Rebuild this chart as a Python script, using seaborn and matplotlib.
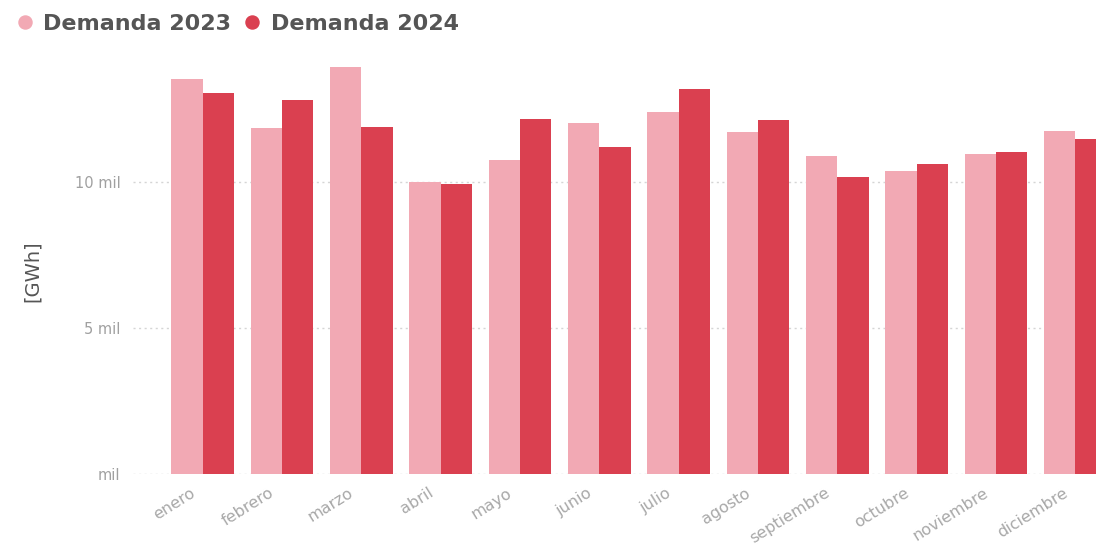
import matplotlib
matplotlib.use("Agg")
import matplotlib.pyplot as plt
import matplotlib.transforms as mtransforms
from matplotlib.lines import Line2D
import seaborn as sns
import pandas as pd

meses = ["enero", "febrero", "marzo", "abril", "mayo", "junio", "julio",
         "agosto", "septiembre", "octubre", "noviembre", "diciembre"]
demanda_2023 = [13530, 11840, 13950, 9990, 10750, 12010, 12410,
                11720, 10900, 10380, 10980, 11750]
demanda_2024 = [13040, 12810, 11900, 9930, 12160, 11190, 13190,
                12120, 10180, 10620, 11020, 11460]
series = ["Demanda 2023", "Demanda 2024"]
yticks = [0, 5000, 10000]
ytick_labels = ["mil", "5 mil", "10 mil"]

colors = {"Demanda 2023": "#F2A9B4", "Demanda 2024": "#DA4050"}

df = pd.DataFrame({
    "mes": meses * 2,
    "valor": demanda_2023 + demanda_2024,
    "serie": [series[0]] * len(meses) + [series[1]] * len(meses),
})

sns.set_theme(style="white")
plt.rcParams["font.family"] = ["DejaVu Sans"]

fig = plt.figure(figsize=(10.96, 5.6), dpi=100)
ax = fig.add_axes([133 / 1096, 86 / 560, (1115 - 133) / 1096, (474 - 56.6) / 560])

sns.barplot(data=df, x="mes", y="valor", hue="serie", order=meses,
            hue_order=series, palette=colors, width=0.79, saturation=1,
            linewidth=0, edgecolor="none", ax=ax, legend=False, zorder=3)

ax.set_xlim(-0.878, 11.5)
ax.set_ylim(0, 14300)
ax.set_yticks(yticks)
ax.set_yticklabels(ytick_labels)
ax.yaxis.grid(True, linestyle=(0, (1.5, 2.5)), color="#D5D5D5", linewidth=1, zorder=0)
ax.xaxis.grid(False)
for s in ax.spines.values():
    s.set_visible(False)
ax.tick_params(axis="y", length=0, pad=9, labelsize=10.5, labelcolor="#A0A0A0")
ax.tick_params(axis="x", length=0, pad=8, labelsize=11.5, labelcolor="#A8A8A8")
offset = mtransforms.ScaledTranslation(-13 / 100, 0, fig.dpi_scale_trans)
for lbl in ax.get_xticklabels():
    lbl.set_rotation(32)
    lbl.set_ha("right")
    lbl.set_va("top")
    lbl.set_rotation_mode("anchor")
    lbl.set_transform(lbl.get_transform() + offset)
ax.set_xlabel("")
ax.set_ylabel("[GWh]", fontsize=14, color="#555555")
ax.yaxis.set_label_coords((42 - 133) / 982, (474 - 271) / 417.4)

handles = [Line2D([0], [0], marker="o", linestyle="", markersize=9.4,
                  markerfacecolor=colors[s], markeredgecolor=colors[s]) for s in series]
leg = fig.legend(handles, series, loc="center left",
                 bbox_to_anchor=(14 / 1096, 1 - 24 / 560),
                 ncol=2, frameon=False, handletextpad=0.32, columnspacing=0.45,
                 handlelength=1.0, borderaxespad=0, borderpad=0,
                 prop={"size": 16, "weight": "bold"})
for t in leg.get_texts():
    t.set_color("#555555")

fig.savefig("out.png", dpi=100)
